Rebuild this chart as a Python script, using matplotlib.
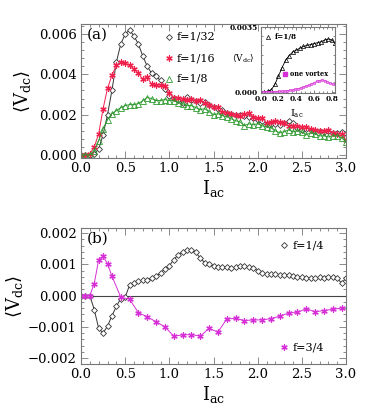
import matplotlib
matplotlib.use("Agg")
import matplotlib.pyplot as plt
from matplotlib.ticker import MultipleLocator, FixedLocator
import numpy as np

plt.rcParams['font.family'] = ['DejaVu Serif']
plt.rcParams['mathtext.fontset'] = 'dejavuserif'

# ---------------- data (units of 1e-3 for V) ----------------
I_a = [0.00, 0.05, 0.10, 0.15, 0.20, 0.25, 0.30, 0.35, 0.40, 0.45, 0.50, 0.55, 0.60, 0.65, 0.70,
       0.75, 0.80, 0.85, 0.90, 0.95, 1.00, 1.05, 1.10, 1.15, 1.20, 1.25, 1.30, 1.35, 1.40, 1.45,
       1.50, 1.55, 1.60, 1.65, 1.70, 1.75, 1.80, 1.85, 1.90, 1.95, 2.00, 2.05, 2.10, 2.15, 2.20,
       2.25, 2.30, 2.35, 2.40, 2.45, 2.50, 2.55, 2.60, 2.65, 2.70, 2.75, 2.80, 2.85, 2.90, 2.95, 3.00]
v_f1_32 = [0.0, 0.0, 0.0, 0.05, 0.3, 1.0, 2.0, 3.2, 4.6, 5.5, 6.0, 6.2, 5.9, 5.5, 4.9,
           4.4, 4.05, 3.9, 3.7, 3.25, 2.95, 2.85, 2.75, 2.6, 2.9, 2.75, 2.7, 2.6, 2.65, 2.5,
           2.4, 2.3, 2.25, 2.1, 2.05, 2.0, 2.0, 1.95, 1.9, 1.85, 1.75, 1.7, 1.55, 1.55, 1.55,
           1.5, 1.6, 1.7, 1.6, 1.35, 1.25, 1.3, 1.25, 1.2, 1.2, 1.15, 1.2, 1.1, 1.1, 1.15, 0.9]
v_f1_16 = [0.0, 0.0, 0.05, 0.4, 1.05, 2.3, 3.3, 3.95, 4.45, 4.6, 4.55, 4.45, 4.25, 4.05, 3.75,
           3.85, 3.5, 3.45, 3.45, 3.4, 3.1, 2.85, 2.85, 2.8, 2.75, 2.8, 2.7, 2.75, 2.6, 2.5,
           2.4, 2.4, 2.15, 2.1, 2.05, 2.0, 1.95, 2.05, 2.1, 1.9, 1.85, 1.85, 1.6, 1.65, 1.7,
           1.65, 1.6, 1.45, 1.45, 1.45, 1.4, 1.4, 1.3, 1.25, 1.2, 1.2, 1.25, 1.1, 1.05, 1.05, 0.75]
v_f1_8 = [0.0, 0.0, 0.02, 0.2, 0.7, 1.3, 1.75, 2.05, 2.2, 2.35, 2.45, 2.5, 2.5, 2.55, 2.7,
          2.85, 2.8, 2.7, 2.7, 2.75, 2.7, 2.7, 2.6, 2.55, 2.45, 2.45, 2.35, 2.25, 2.3, 2.15,
          2.0, 2.05, 1.95, 1.9, 1.8, 1.7, 1.65, 1.45, 1.55, 1.5, 1.55, 1.45, 1.4, 1.35, 1.2,
          1.1, 1.15, 1.25, 1.15, 1.2, 1.15, 1.0, 1.1, 1.05, 0.95, 0.95, 0.9, 0.95, 0.95, 0.85, 0.65]

# inset
I_in = [0.00, 0.04, 0.08, 0.12, 0.16, 0.20, 0.24, 0.28, 0.32, 0.36, 0.40, 0.44, 0.48,
        0.52, 0.56, 0.60, 0.64, 0.68, 0.72, 0.76, 0.80, 0.83]
v_in_f1_8 = [0.0, 0.0, 0.02, 0.1, 0.4, 0.85, 1.3, 1.7, 1.95, 2.15, 2.25, 2.35, 2.45,
             2.5, 2.55, 2.6, 2.65, 2.7, 2.8, 2.85, 2.8, 2.65]
I_one = [0.00, 0.03, 0.06, 0.09, 0.12, 0.15, 0.18, 0.21, 0.24, 0.27, 0.30, 0.33, 0.36, 0.39,
         0.42, 0.45, 0.48, 0.51, 0.54, 0.57, 0.60, 0.63, 0.66, 0.69, 0.72, 0.75, 0.78, 0.81, 0.83]
v_one = [0.0, 0.0, 0.0, 0.0, 0.0, 0.0, 0.0, 0.01, 0.02, 0.03, 0.05, 0.07, 0.1, 0.13,
         0.16, 0.2, 0.25, 0.3, 0.35, 0.42, 0.48, 0.55, 0.6, 0.63, 0.6, 0.52, 0.45, 0.4, 0.4]

# panel (b)
v_f1_4 = [0.0, 0.0, 0.0, -0.45, -1.05, -1.2, -0.98, -0.65, -0.35, -0.1, -0.05, 0.33, 0.4, 0.45, 0.5,
          0.5, 0.55, 0.62, 0.72, 0.85, 0.95, 1.15, 1.3, 1.4, 1.45, 1.45, 1.38, 1.2, 1.05, 1.0,
          0.95, 0.92, 0.9, 0.9, 0.88, 0.9, 0.93, 0.95, 0.9, 0.87, 0.8, 0.72, 0.7, 0.7, 0.68,
          0.65, 0.65, 0.67, 0.63, 0.6, 0.58, 0.56, 0.56, 0.56, 0.58, 0.56, 0.6, 0.58, 0.55, 0.4, 0.55]
I_b34 = [0.00, 0.05, 0.10, 0.15, 0.20, 0.25, 0.30, 0.35, 0.45, 0.55, 0.65, 0.75, 0.85, 0.95,
         1.05, 1.15, 1.25, 1.35, 1.45, 1.55, 1.65, 1.75, 1.85, 1.95, 2.05, 2.15, 2.25, 2.35,
         2.45, 2.55, 2.65, 2.75, 2.85, 2.95]
v_f3_4 = [0.0, 0.0, 0.0, 0.38, 1.15, 1.25, 1.02, 0.62, -0.05, -0.12, -0.55, -0.68, -0.84, -1.0,
          -1.3, -1.26, -1.25, -1.3, -1.05, -1.17, -0.75, -0.73, -0.8, -0.78, -0.78, -0.74, -0.66, -0.56,
          -0.54, -0.42, -0.52, -0.48, -0.44, -0.4]

xticks = [0.0, 0.5, 1.0, 1.5, 2.0, 2.5, 3.0]
xticklabels = ['0.0', '0.5', '1.0', '1.5', '2.0', '2.5', '3.0']

# ---------------- styling ----------------
BLACK = '#333333'
RED = '#f0204c'
REDFILL = '#f7a0b4'
GREEN = '#2f9a2f'
MAG = '#d62fd6'
MAGFILL = '#e890e8'
FRAME = '#777777'
ast = (6, 2, 0)

s = lambda v: np.array(v) * 1e-3

W, H = 371, 409
fig = plt.figure(figsize=(W / 100, H / 100), dpi=100)

def rect(l, r, t, b):
    return [l / W, 1 - b / H, (r - l) / W, (b - t) / H]

def style(ax, fs=9.5, mlen=5, nlen=2.5):
    for sp in ax.spines.values():
        sp.set_color(FRAME)
        sp.set_linewidth(0.8)
    ax.tick_params(which='both', direction='in', top=True, right=True, color=FRAME,
                   width=0.6, labelsize=fs, pad=3)
    ax.tick_params(which='major', length=mlen)
    ax.tick_params(which='minor', length=nlen)

ylab = r'$\langle\mathrm{V}_{\mathrm{dc}}\rangle$'
xlab = r'$\mathrm{I}_{\mathrm{ac}}$'

DIAM = dict(marker='D', ms=3.0, mfc='white', mec=BLACK, mew=0.6)
TRI = dict(marker='^', ms=3.8, mfc='none', mec=GREEN, mew=0.6)

def star(ax, x, y, col, fill, **kw):
    ax.plot(x, y, linestyle='none', marker='s', ms=2.6, mfc=fill, mec='none', **kw)
    ax.plot(x, y, linestyle='none', marker=ast, ms=4.6, mec=col, mew=0.8, **kw)

# ---------------- panel (a) ----------------
axa = fig.add_axes(rect(81, 346, 24, 158))
axa.plot(I_a, s(v_f1_32), color=BLACK, lw=0.7, **DIAM)
axa.plot(I_a, s(v_f1_16), color=RED, lw=0.7)
star(axa, I_a, s(v_f1_16), RED, REDFILL)
axa.plot(I_a, s(v_f1_8), color=GREEN, lw=0.7, **TRI)
axa.set_xlim(0, 3.0)
axa.set_ylim(-0.00015, 0.0065)
axa.set_xticks(xticks)
axa.set_xticklabels(xticklabels)
axa.xaxis.set_minor_locator(MultipleLocator(0.1))
axa.set_yticks([0.0, 0.002, 0.004, 0.006])
axa.set_yticklabels(['0.000', '0.002', '0.004', '0.006'])
axa.yaxis.set_minor_locator(MultipleLocator(0.0004))
style(axa)
axa.set_ylabel(ylab, fontsize=13, labelpad=4)
axa.set_xlabel(xlab, fontsize=13, labelpad=2)
axa.text(0.02, 0.918, '(a)', transform=axa.transAxes, fontsize=11, va='center', ha='left')
axa.plot([0.332], [0.903], transform=axa.transAxes, clip_on=False, **DIAM)
star(axa, [0.332], [0.746], RED, REDFILL, transform=axa.transAxes, clip_on=False)
axa.plot([0.332], [0.59], transform=axa.transAxes, clip_on=False, **TRI)
for txt, yy in [('f=1/32', 0.903), ('f=1/16', 0.746), ('f=1/8', 0.59)]:
    axa.text(0.362, yy, txt, transform=axa.transAxes, fontsize=8, va='center', ha='left')

# ---------------- inset ----------------
axi = fig.add_axes(rect(260.7, 335, 27, 92.5))
axi.plot(I_in, s(v_in_f1_8), color='black', lw=0.6, marker='^', ms=3.0, mfc='none', mec='black', mew=0.5)
axi.plot(I_one, s(v_one), color=MAG, lw=0.6, marker='s', ms=2.0, mfc=MAGFILL, mec=MAG, mew=0.4)
axi.set_xlim(0, 0.835)
axi.set_ylim(-0.00005, 0.0035)
axi.set_xticks([0.0, 0.2, 0.4, 0.6, 0.8])
axi.set_xticklabels(['0.0', '0.2', '0.4', '0.6', '0.8'])
axi.xaxis.set_minor_locator(MultipleLocator(0.05))
axi.set_yticks([0.0, 0.0035])
axi.set_yticklabels(['0.000', '0.0035'])
axi.yaxis.set_minor_locator(FixedLocator([0.0005 * k for k in range(1, 7)]))
style(axi, fs=5.3, mlen=2.5, nlen=1.2)
axi.tick_params(pad=2)
for lab in axi.get_xticklabels() + axi.get_yticklabels():
    lab.set_fontweight('bold')
axi.plot([0.098], [0.847], marker='^', ms=3.0, mfc='none', mec='black', mew=0.5,
         transform=axi.transAxes, clip_on=False)
axi.text(0.19, 0.847, 'f=1/8', transform=axi.transAxes, fontsize=5.2, fontweight='bold', va='center')
axi.plot([0.33], [0.282], marker='s', ms=2.4, color=MAG, transform=axi.transAxes, clip_on=False)
axi.text(0.39, 0.282, 'one vortex', transform=axi.transAxes, fontsize=4.7, fontweight='bold', va='center')
fig.text(243 / W, 1 - 58 / H, ylab, fontsize=6.5, ha='center', va='center')
fig.text(297 / W, 1 - 114 / H, xlab, fontsize=7, ha='center', va='center')

# ---------------- panel (b) ----------------
axb = fig.add_axes(rect(81, 346, 228, 364))
axb.axhline(0, color='#444444', lw=0.8)
axb.plot(I_a, s(v_f1_4), color=BLACK, lw=0.7, **DIAM)
axb.plot(I_b34, s(v_f3_4), color=MAG, lw=0.7)
star(axb, I_b34, s(v_f3_4), MAG, MAGFILL)
axb.set_xlim(0, 3.0)
axb.set_ylim(-0.00219, 0.00216)
axb.set_xticks(xticks)
axb.set_xticklabels(xticklabels)
axb.xaxis.set_minor_locator(MultipleLocator(0.1))
axb.set_yticks([-0.002, -0.001, 0.0, 0.001, 0.002])
axb.set_yticklabels(['\u22120.002', '\u22120.001', '0.000', '0.001', '0.002'])
axb.yaxis.set_minor_locator(MultipleLocator(0.0002))
style(axb)
axb.set_ylabel(ylab, fontsize=13, labelpad=2)
axb.set_xlabel(xlab, fontsize=13, labelpad=2)
axb.text(0.02, 0.918, '(b)', transform=axb.transAxes, fontsize=11, va='center', ha='left')
axb.plot([0.766], [0.875], transform=axb.transAxes, clip_on=False, **DIAM)
axb.text(0.799, 0.875, 'f=1/4', transform=axb.transAxes, fontsize=8, va='center')
star(axb, [0.766], [0.125], MAG, MAGFILL, transform=axb.transAxes, clip_on=False)
axb.text(0.799, 0.125, 'f=3/4', transform=axb.transAxes, fontsize=8, va='center')

fig.savefig('out.png', dpi=100)
